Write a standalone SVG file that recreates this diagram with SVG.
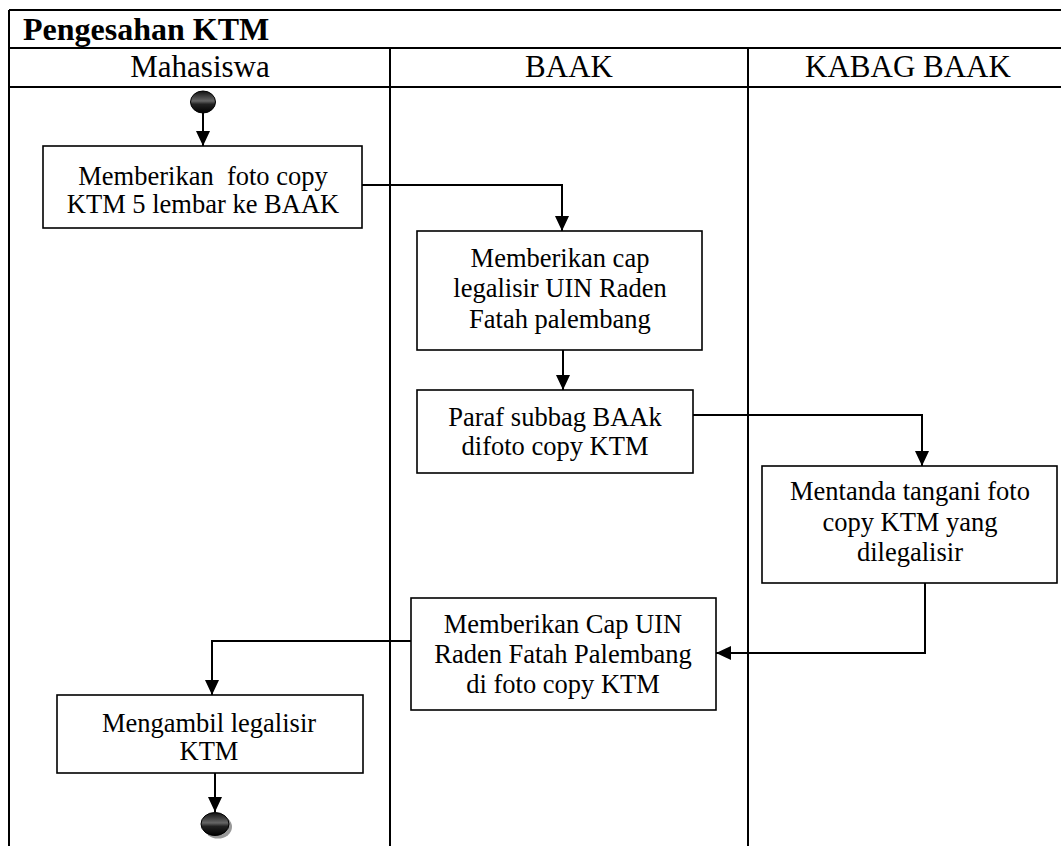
<svg xmlns="http://www.w3.org/2000/svg" width="1061" height="846" viewBox="0 0 1061 846">
<style>
.frame{fill:none;stroke:#000;stroke-width:2}
.box{fill:#fff;stroke:#000;stroke-width:1.6}
.t{font-family:"Liberation Serif","Times New Roman",serif;font-size:26.5px;fill:#000;text-anchor:middle;white-space:pre}
.h{font-family:"Liberation Serif","Times New Roman",serif;font-size:31px;fill:#000;text-anchor:middle}
.title{font-family:"Liberation Serif","Times New Roman",serif;font-size:32px;font-weight:bold;fill:#000}
.c{fill:none;stroke:#000;stroke-width:2}
</style>
<defs>
<marker id="arr" markerUnits="userSpaceOnUse" markerWidth="18" markerHeight="16" refX="15" refY="7" orient="auto">
<path d="M0,0 L15,7 L0,14 z" fill="#000"/>
</marker>
<linearGradient id="dot" x1="0" y1="0" x2="0" y2="1">
<stop offset="0" stop-color="#111"/>
<stop offset="0.45" stop-color="#666"/>
<stop offset="0.6" stop-color="#222"/>
<stop offset="1" stop-color="#000"/>
</linearGradient>
</defs>
<rect width="1061" height="846" fill="#fff"/>
<g id="frame">
<line class="frame" x1="9" y1="10" x2="1061" y2="10"/>
<line class="frame" x1="9" y1="10" x2="9" y2="846"/>
<line class="frame" x1="9" y1="48" x2="1061" y2="48"/>
<line class="frame" x1="9" y1="87" x2="1061" y2="87"/>
<line class="frame" x1="390" y1="48" x2="390" y2="846"/>
<line class="frame" x1="748" y1="48" x2="748" y2="846"/>
<text class="title" x="23" y="40">Pengesahan KTM</text>
<text class="h" x="200" y="77">Mahasiswa</text>
<text class="h" x="569" y="77">BAAK</text>
<text class="h" x="908" y="77">KABAG BAAK</text>
</g>
<g id="connectors">
<line class="c" x1="203" y1="113" x2="203" y2="146" marker-end="url(#arr)"/>
<polyline class="c" points="362,185 562,185 562,231" marker-end="url(#arr)"/>
<line class="c" x1="563" y1="350" x2="563" y2="390" marker-end="url(#arr)"/>
<polyline class="c" points="693,415 922,415 922,466" marker-end="url(#arr)"/>
<polyline class="c" points="925,583 925,653 716,653" marker-end="url(#arr)"/>
<polyline class="c" points="418,641 212,641 212,695" marker-end="url(#arr)"/>
<line class="c" x1="215" y1="773" x2="215" y2="812" marker-end="url(#arr)"/>
</g>
<g id="start">
<ellipse cx="203" cy="102" rx="12.5" ry="11" fill="url(#dot)" stroke="#000" stroke-width="1"/>
</g>
<g id="n1">
<rect class="box" x="43" y="146" width="319" height="82"/>
<text class="t" x="203" y="185" xml:space="preserve">Memberikan  foto copy</text>
<text class="t" x="203" y="213">KTM 5 lembar ke BAAK</text>
</g>
<g id="n2">
<rect class="box" x="417" y="231" width="285" height="119"/>
<text class="t" x="560" y="267">Memberikan cap</text>
<text class="t" x="560" y="297">legalisir UIN Raden</text>
<text class="t" x="560" y="328">Fatah palembang</text>
</g>
<g id="n3">
<rect class="box" x="417" y="390" width="276" height="83"/>
<text class="t" x="555" y="426">Paraf subbag BAAk</text>
<text class="t" x="555" y="455">difoto copy KTM</text>
</g>
<g id="n4">
<rect class="box" x="762" y="466" width="295" height="117"/>
<text class="t" x="910" y="500">Mentanda tangani foto</text>
<text class="t" x="910" y="531">copy KTM yang</text>
<text class="t" x="910" y="561">dilegalisir</text>
</g>
<g id="n5">
<rect class="box" x="411" y="598" width="305" height="112"/>
<text class="t" x="563" y="633">Memberikan Cap UIN</text>
<text class="t" x="563" y="663">Raden Fatah Palembang</text>
<text class="t" x="563" y="693">di foto copy KTM</text>
</g>
<g id="n6">
<rect class="box" x="57" y="695" width="306" height="78"/>
<text class="t" x="209" y="732">Mengambil legalisir</text>
<text class="t" x="209" y="760">KTM</text>
</g>
<g id="end">
<ellipse cx="218" cy="827" rx="14" ry="11.5" fill="#999"/>
<ellipse cx="215" cy="824" rx="14" ry="11.5" fill="url(#dot)" stroke="#000" stroke-width="1"/>
</g>
</svg>
